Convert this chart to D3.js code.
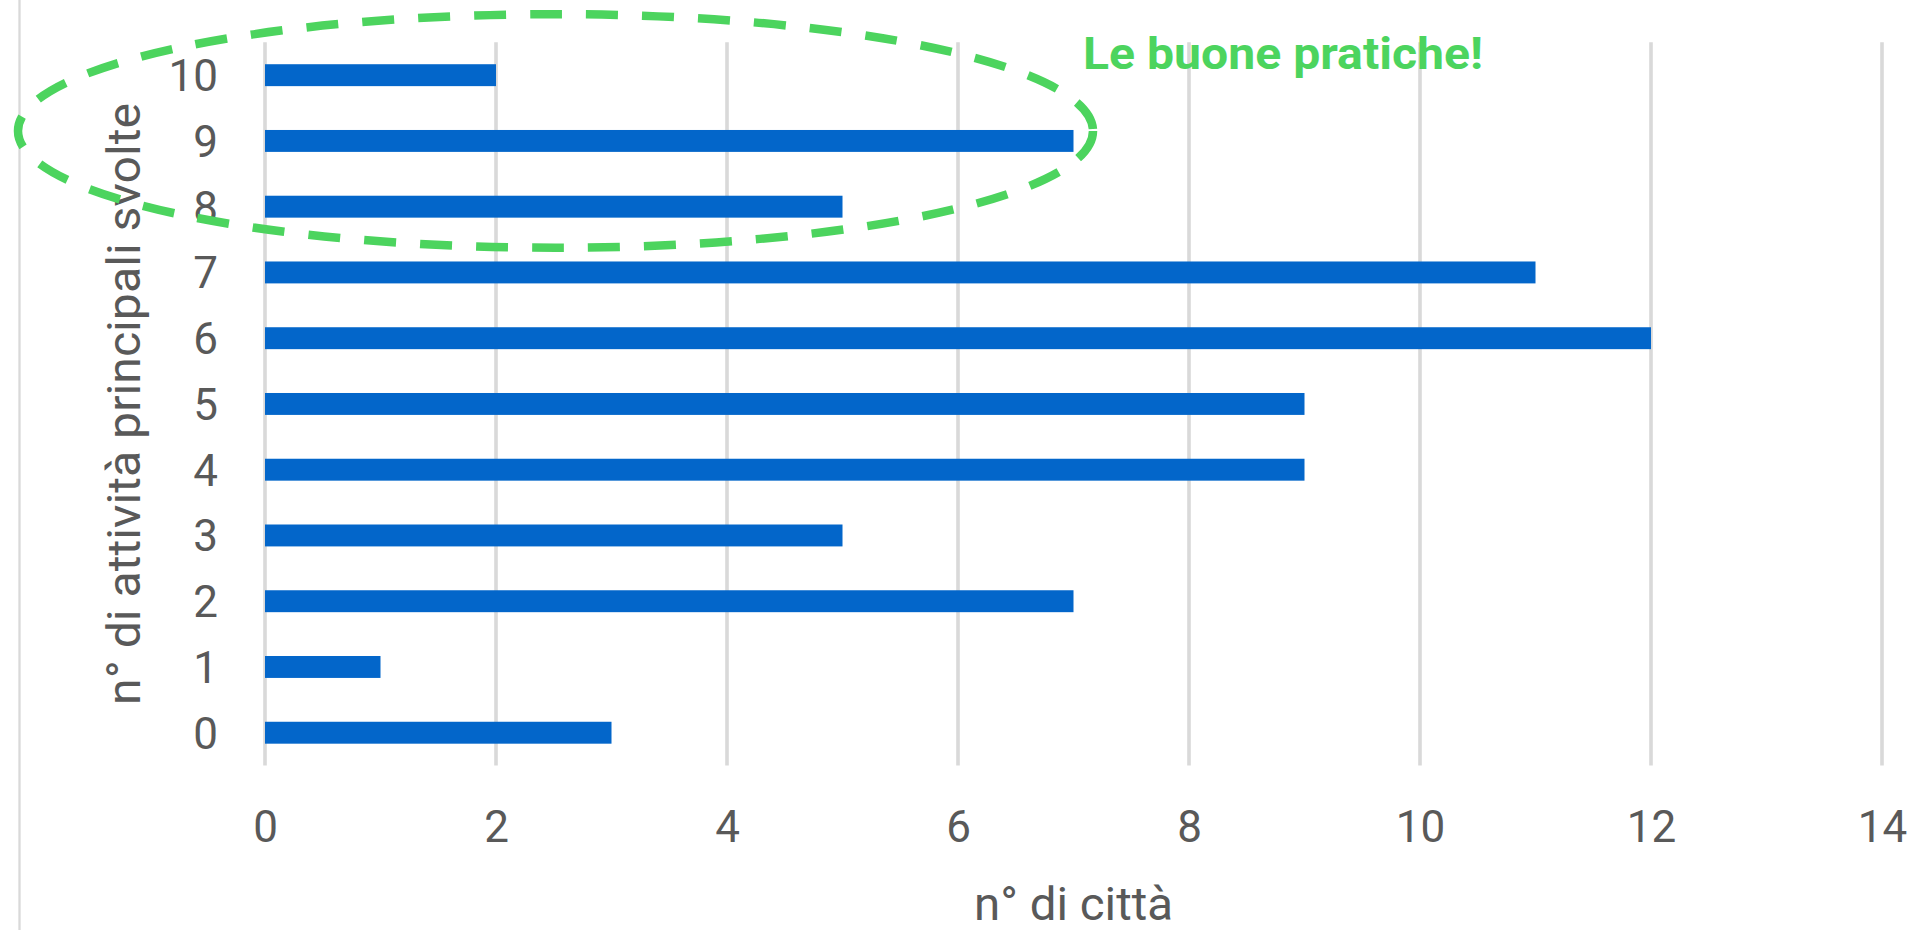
<!DOCTYPE html>
<html lang="it">
<head>
<meta charset="utf-8">
<title>Attività principali svolte per città</title>
<script src="https://cdn.jsdelivr.net/npm/d3@7/dist/d3.min.js"></script>
<style>
  html, body { margin: 0; padding: 0; background: #ffffff; }
  svg { display: block; }
  .tick-label { font-family: Roboto, "Liberation Sans", sans-serif; fill: #595959; }
</style>
</head>
<body>
<svg id="chart" width="1916" height="930"></svg>
<script>
// Number of main activities carried out (categories, bottom to top)
const categories = ["0", "1", "2", "3", "4", "5", "6", "7", "8", "9", "10"];
// Number of cities for each category
const cityCounts = [3, 1, 7, 5, 9, 9, 12, 11, 5, 7, 2];
// Value-axis tick labels
const xTicks = [0, 2, 4, 6, 8, 10, 12, 14];
// Categories enclosed by the highlight
const highlighted = ["8", "9", "10"];

const xTitle = "n° di città";
const yTitle = "n° di attività principali svolte";
const note = "Le buone pratiche!";

const W = 1916, H = 930;
const plot = { left: 265, right: 1882, top: 42.3, bottom: 765.6 };
const grey = "#595959", gridGrey = "#d9d9d9", barBlue = "#0366ca", green = "#4cd45e";

const svg = d3.select("#chart");

const x = d3.scaleLinear().domain([0, 14]).range([plot.left, plot.right]);
const y = d3.scaleBand()
  .domain(categories)
  .range([plot.bottom, plot.top])
  .paddingInner(2 / 3)
  .paddingOuter(1 / 3);

// chart frame edge on the left
svg.append("line")
  .attr("x1", 19.5).attr("x2", 19.5)
  .attr("y1", 0).attr("y2", H)
  .attr("stroke", gridGrey).attr("stroke-width", 2.3);

// vertical gridlines
svg.append("g")
  .selectAll("line")
  .data(xTicks)
  .join("line")
  .attr("x1", d => x(d)).attr("x2", d => x(d))
  .attr("y1", plot.top).attr("y2", plot.bottom)
  .attr("stroke", gridGrey).attr("stroke-width", 3.6);

// bars
svg.append("g")
  .selectAll("rect")
  .data(categories.map((c, i) => ({ c, v: cityCounts[i] })))
  .join("rect")
  .attr("x", x(0))
  .attr("y", d => y(d.c))
  .attr("width", d => x(d.v) - x(0))
  .attr("height", y.bandwidth())
  .attr("fill", barBlue);

// value axis labels
const xAxis = svg.append("g")
  .attr("transform", `translate(0,${plot.bottom})`)
  .call(d3.axisBottom(x).tickValues(xTicks).tickSize(0).tickPadding(0).tickFormat(d3.format("d")));
xAxis.select(".domain").remove();
xAxis.selectAll("text")
  .attr("class", "tick-label")
  .attr("y", 76).attr("dy", 0)
  .style("font-size", "44px");

// category axis labels
const yAxis = svg.append("g")
  .attr("transform", `translate(218,0)`)
  .call(d3.axisLeft(y).tickSize(0).tickPadding(0));
yAxis.select(".domain").remove();
yAxis.selectAll("text")
  .attr("class", "tick-label")
  .attr("x", 0).attr("dy", "0.36em")
  .attr("text-anchor", "end")
  .style("font-size", "44px");

// axis titles
svg.append("text")
  .attr("x", (plot.left + plot.right) / 2)
  .attr("y", 920)
  .attr("text-anchor", "middle")
  .attr("textLength", 199).attr("lengthAdjust", "spacingAndGlyphs")
  .style("font-family", "Roboto, 'Liberation Sans', sans-serif")
  .style("font-size", "46px")
  .attr("fill", grey)
  .text(xTitle);

svg.append("text")
  .attr("transform", `translate(140,${(plot.top + plot.bottom) / 2}) rotate(-90)`)
  .attr("text-anchor", "middle")
  .attr("textLength", 602).attr("lengthAdjust", "spacingAndGlyphs")
  .style("font-family", "Roboto, 'Liberation Sans', sans-serif")
  .style("font-size", "47px")
  .attr("fill", grey)
  .text(yTitle);

// annotation text
svg.append("text")
  .attr("x", 1083).attr("y", 68.5)
  .attr("textLength", 400).attr("lengthAdjust", "spacingAndGlyphs")
  .style("font-family", "Roboto, 'Liberation Sans', sans-serif")
  .style("font-weight", "700")
  .style("font-size", "44.5px")
  .attr("fill", green)
  .text(note);

// dashed ellipse around the highlighted categories
const hiTop = d3.min(highlighted, c => y(c));
const hiBottom = d3.max(highlighted, c => y(c) + y.bandwidth());
const hiCenterY = (hiTop + hiBottom) / 2;
svg.append("ellipse")
  .attr("cx", 555.5)
  .attr("cy", hiCenterY - 10)
  .attr("rx", 537.5)
  .attr("ry", 116.8)
  .attr("fill", "none")
  .attr("stroke", green)
  .attr("stroke-width", 8.5)
  .attr("stroke-dasharray", "32 24");
</script>
</body>
</html>
